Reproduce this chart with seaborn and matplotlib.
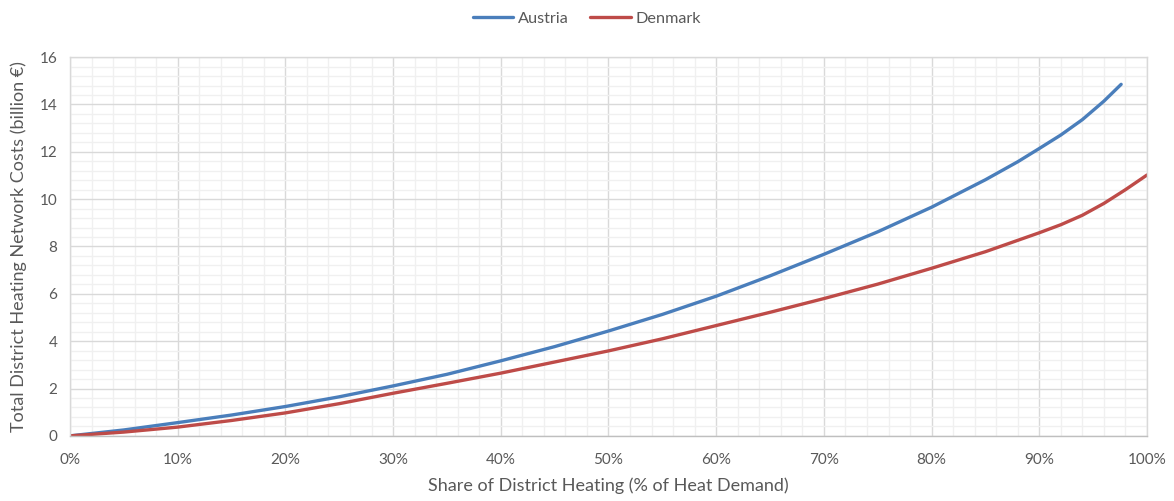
import numpy as np
import pandas as pd
import matplotlib
matplotlib.use("Agg")
import matplotlib.pyplot as plt
from matplotlib.ticker import MultipleLocator, PercentFormatter
import seaborn as sns

# District heating share (% of heat demand) and total network cost (billion €)
austria_share = [0, 5, 10, 15, 20, 25, 30, 35, 40, 45, 50, 55, 60, 65, 70, 75, 80, 85,
                 88, 90, 92, 94, 96, 97.6]
austria_cost = [0, 0.25, 0.56, 0.88, 1.24, 1.65, 2.11, 2.60, 3.17, 3.77, 4.43, 5.13, 5.90, 6.76,
                7.67, 8.62, 9.66, 10.82, 11.58, 12.14, 12.71, 13.36, 14.14, 14.85]

denmark_share = [0, 5, 10, 15, 20, 25, 30, 35, 40, 45, 50, 55, 60, 65, 70, 75, 80, 85,
                 90, 92, 94, 96, 98, 100]
denmark_cost = [0, 0.16, 0.37, 0.65, 0.97, 1.36, 1.80, 2.22, 2.65, 3.12, 3.59, 4.10, 4.66, 5.22,
                5.80, 6.41, 7.08, 7.78, 8.58, 8.92, 9.32, 9.82, 10.40, 11.02]

df = pd.concat([
    pd.DataFrame({"share": austria_share, "cost": austria_cost, "country": "Austria"}),
    pd.DataFrame({"share": denmark_share, "cost": denmark_cost, "country": "Denmark"}),
], ignore_index=True)

sns.set_theme(style="white")
plt.rcParams["font.family"] = ["Lato", "DejaVu Sans"]

text_color = "#595959"
major_grid = "#d9d9d9"
minor_grid = "#f0f0f0"

fig = plt.figure(figsize=(11.74, 5.01), dpi=100)
ax = fig.add_axes([0.0596, 0.130, 0.9174, 0.756])

sns.lineplot(data=df, x="share", y="cost", hue="country",
             palette={"Austria": "#4a7ebb", "Denmark": "#be4b48"},
             linewidth=2.4, ax=ax, sort=True, estimator=None)
for line in ax.get_lines():
    line.set_solid_joinstyle("round")
    line.set_solid_capstyle("round")

ax.set_xlim(0, 100)
ax.set_ylim(0, 16)
ax.xaxis.set_major_locator(MultipleLocator(10))
ax.xaxis.set_minor_locator(MultipleLocator(2))
ax.yaxis.set_major_locator(MultipleLocator(2))
ax.yaxis.set_minor_locator(MultipleLocator(0.4))
ax.xaxis.set_major_formatter(PercentFormatter(decimals=0))

ax.grid(which="major", color=major_grid, linewidth=1.0, zorder=0)
ax.grid(which="minor", color=minor_grid, linewidth=1.0, zorder=0)
ax.set_axisbelow(True)
for side in ["top", "right", "left", "bottom"]:
    ax.spines[side].set_color(major_grid)
    ax.spines[side].set_linewidth(1.0)
ax.spines["bottom"].set_color("#bfbfbf")

ax.tick_params(which="both", length=0, labelsize=11, colors=text_color)
ax.tick_params(axis="x", pad=12)
ax.tick_params(axis="y", pad=9)

ax.set_xlabel("Share of District Heating (% of Heat Demand)", fontsize=13, color=text_color, labelpad=8)
ax.set_ylabel("Total District Heating Network Costs (billion €)", fontsize=13, color=text_color, labelpad=9)

handles, labels = ax.get_legend_handles_labels()
ax.get_legend().remove()
fig.legend(handles, labels, loc="center", bbox_to_anchor=(0.5, 0.963), ncol=2,
           frameon=False, fontsize=11.7, labelcolor=text_color, handlelength=2.5,
           handletextpad=0.3, columnspacing=1.3)

fig.savefig("out.png", dpi=100)
